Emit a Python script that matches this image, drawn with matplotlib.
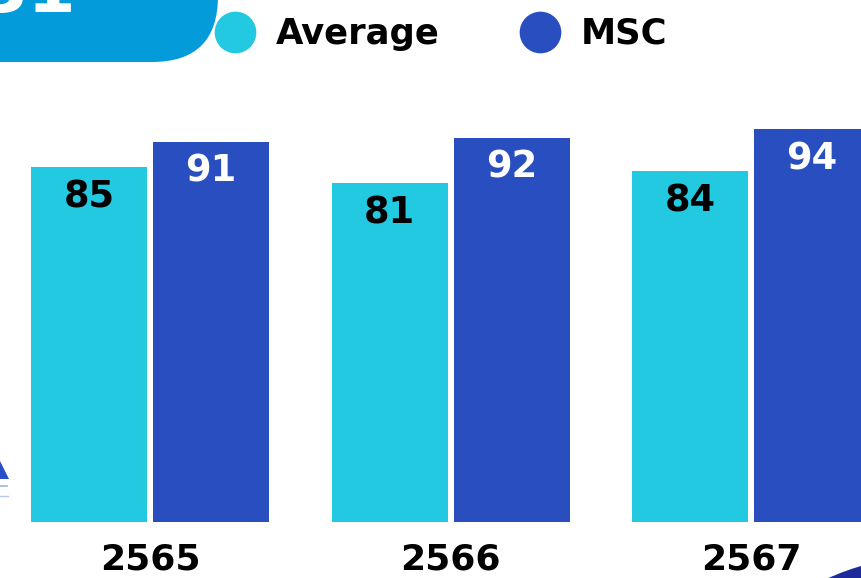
import numpy as np
import matplotlib.pyplot as plt
from matplotlib.patches import FancyBboxPatch, Circle, Polygon
from matplotlib.lines import Line2D

years = ['2565', '2566', '2567']
average = [85, 81, 84]
msc = [91, 92, 94]

cyan = '#23C8E1'
blue = '#284EBF'

plt.rcParams['font.family'] = ['DejaVu Sans']

fig = plt.figure(figsize=(8.62, 5.78), dpi=100)

# background decorations (pixel coordinates)
deco = fig.add_axes([0, 0, 1, 1], zorder=0)
deco.set_xlim(0, 862)
deco.set_ylim(578, 0)
deco.axis('off')
deco.add_patch(FancyBboxPatch((-80, -120), 298, 182,
                              boxstyle='round,pad=0,rounding_size=66',
                              fc='#039BD9', ec='none'))
deco.text(76, 12, '31', color='white', fontsize=50, fontweight='bold',
          ha='right', va='baseline')
deco.add_patch(Circle((931, 806), 250, fc='#1E2A9A', ec='none'))
deco.add_patch(Polygon([(0, 461), (0, 479), (9, 479)], fc='#2A4FC4', ec='none'))
deco.plot([0, 7], [486, 486], color='#9DB4E0', lw=1.2)
deco.plot([0, 8], [496, 496], color='#B7C8EA', lw=1)

ax = fig.add_axes([0, 56 / 578, 1, 522 / 578], zorder=1)
ax.patch.set_alpha(0)
x = np.arange(len(years))
w = 0.386
off = 0.203
b1 = ax.bar(x - off, average, w, color=cyan)
b2 = ax.bar(x + off, msc, w, color=blue)
ax.set_xlim(-0.499, 2.369)
ax.set_ylim(0, 124.9)

for rect, v in zip(b1, average):
    ax.annotate(str(v), (rect.get_x() + rect.get_width() / 2, v),
                xytext=(0, -29), textcoords='offset points',
                ha='center', va='baseline', fontsize=26.5, fontweight='bold',
                color='black')
for rect, v in zip(b2, msc):
    ax.annotate(str(v), (rect.get_x() + rect.get_width() / 2, v),
                xytext=(0, -29), textcoords='offset points',
                ha='center', va='baseline', fontsize=26.5, fontweight='bold',
                color='white')

ax.set_xticks(x)
ax.set_xticklabels(years, fontsize=26, fontweight='bold')
ax.tick_params(axis='x', length=0, pad=34)
for lbl in ax.get_xticklabels():
    lbl.set_va('baseline')
ax.set_yticks([])
for s in ax.spines.values():
    s.set_visible(False)

handles = [Line2D([], [], marker='o', ls='none', ms=29, color=cyan),
           Line2D([], [], marker='o', ls='none', ms=29, color=blue)]
fig.legend(handles, ['Average', 'MSC'], loc='upper left',
           bbox_to_anchor=(216 / 862, 1 - 17 / 578), ncol=2, frameon=False,
           prop={'weight': 'bold', 'size': 25.5}, handlelength=1.1,
           handletextpad=0.6, columnspacing=2.27, borderpad=0,
           borderaxespad=0)

fig.savefig('out.png', dpi=100)
